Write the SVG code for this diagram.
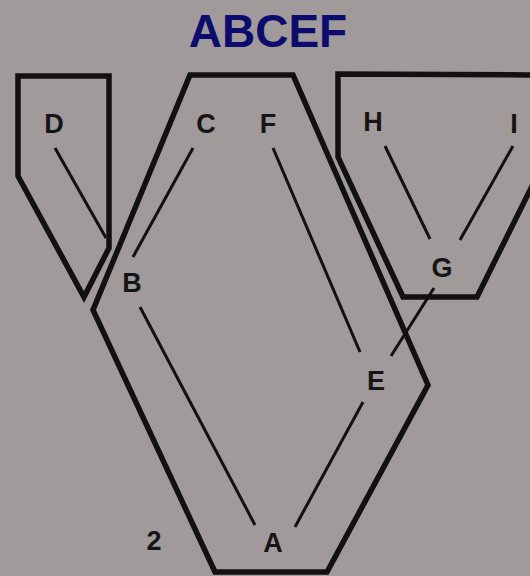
<svg xmlns="http://www.w3.org/2000/svg" width="530" height="576" viewBox="0 0 530 576">
<style>
.outline{fill:none;stroke:#111;stroke-width:5.5;stroke-linejoin:miter}
.edge{fill:none;stroke:#111;stroke-width:3;stroke-linecap:butt}
.lbl{font-family:"Liberation Sans",Arial,sans-serif;font-weight:bold;font-size:27px;fill:#151515;text-anchor:middle}
.title{font-family:"Liberation Sans",Arial,sans-serif;font-weight:bold;font-size:46px;fill:#0c0c6e;text-anchor:middle}
</style>
<rect width="530" height="576" fill="#a09a9b"/>
<text class="title" x="268" y="47">ABCEF</text>
<g id="outlines">
<polygon class="outline" points="18,76 109,76 109,248 84,297 18,176"/>
<polygon class="outline" points="190,75 293,75 428,385 327,572 215,572 93,310"/>
<polyline class="outline" points="545,75 338,74 338,157 403,297 477,297 537,176"/>
</g>
<g id="connectors">
<line class="edge" x1="55" y1="148" x2="106" y2="238"/>
<line class="edge" x1="193" y1="148" x2="133" y2="257"/>
<line class="edge" x1="273" y1="148" x2="360" y2="352"/>
<line class="edge" x1="385" y1="146" x2="430" y2="239"/>
<line class="edge" x1="513" y1="146" x2="460" y2="240"/>
<line class="edge" x1="434" y1="288" x2="391" y2="356"/>
<line class="edge" x1="140" y1="307" x2="255" y2="525"/>
<line class="edge" x1="363" y1="402" x2="295" y2="527"/>
</g>
<g id="node-D"><text class="lbl" x="54" y="133">D</text></g>
<g id="node-C"><text class="lbl" x="206" y="133">C</text></g>
<g id="node-F"><text class="lbl" x="268" y="133">F</text></g>
<g id="node-H"><text class="lbl" x="373" y="131">H</text></g>
<g id="node-I"><text class="lbl" x="514" y="133">I</text></g>
<g id="node-B"><text class="lbl" x="132" y="292">B</text></g>
<g id="node-G"><text class="lbl" x="442" y="277">G</text></g>
<g id="node-E"><text class="lbl" x="376" y="390">E</text></g>
<g id="node-A"><text class="lbl" x="273" y="552">A</text></g>
<g id="label-2"><text class="lbl" x="154" y="550">2</text></g>
</svg>
